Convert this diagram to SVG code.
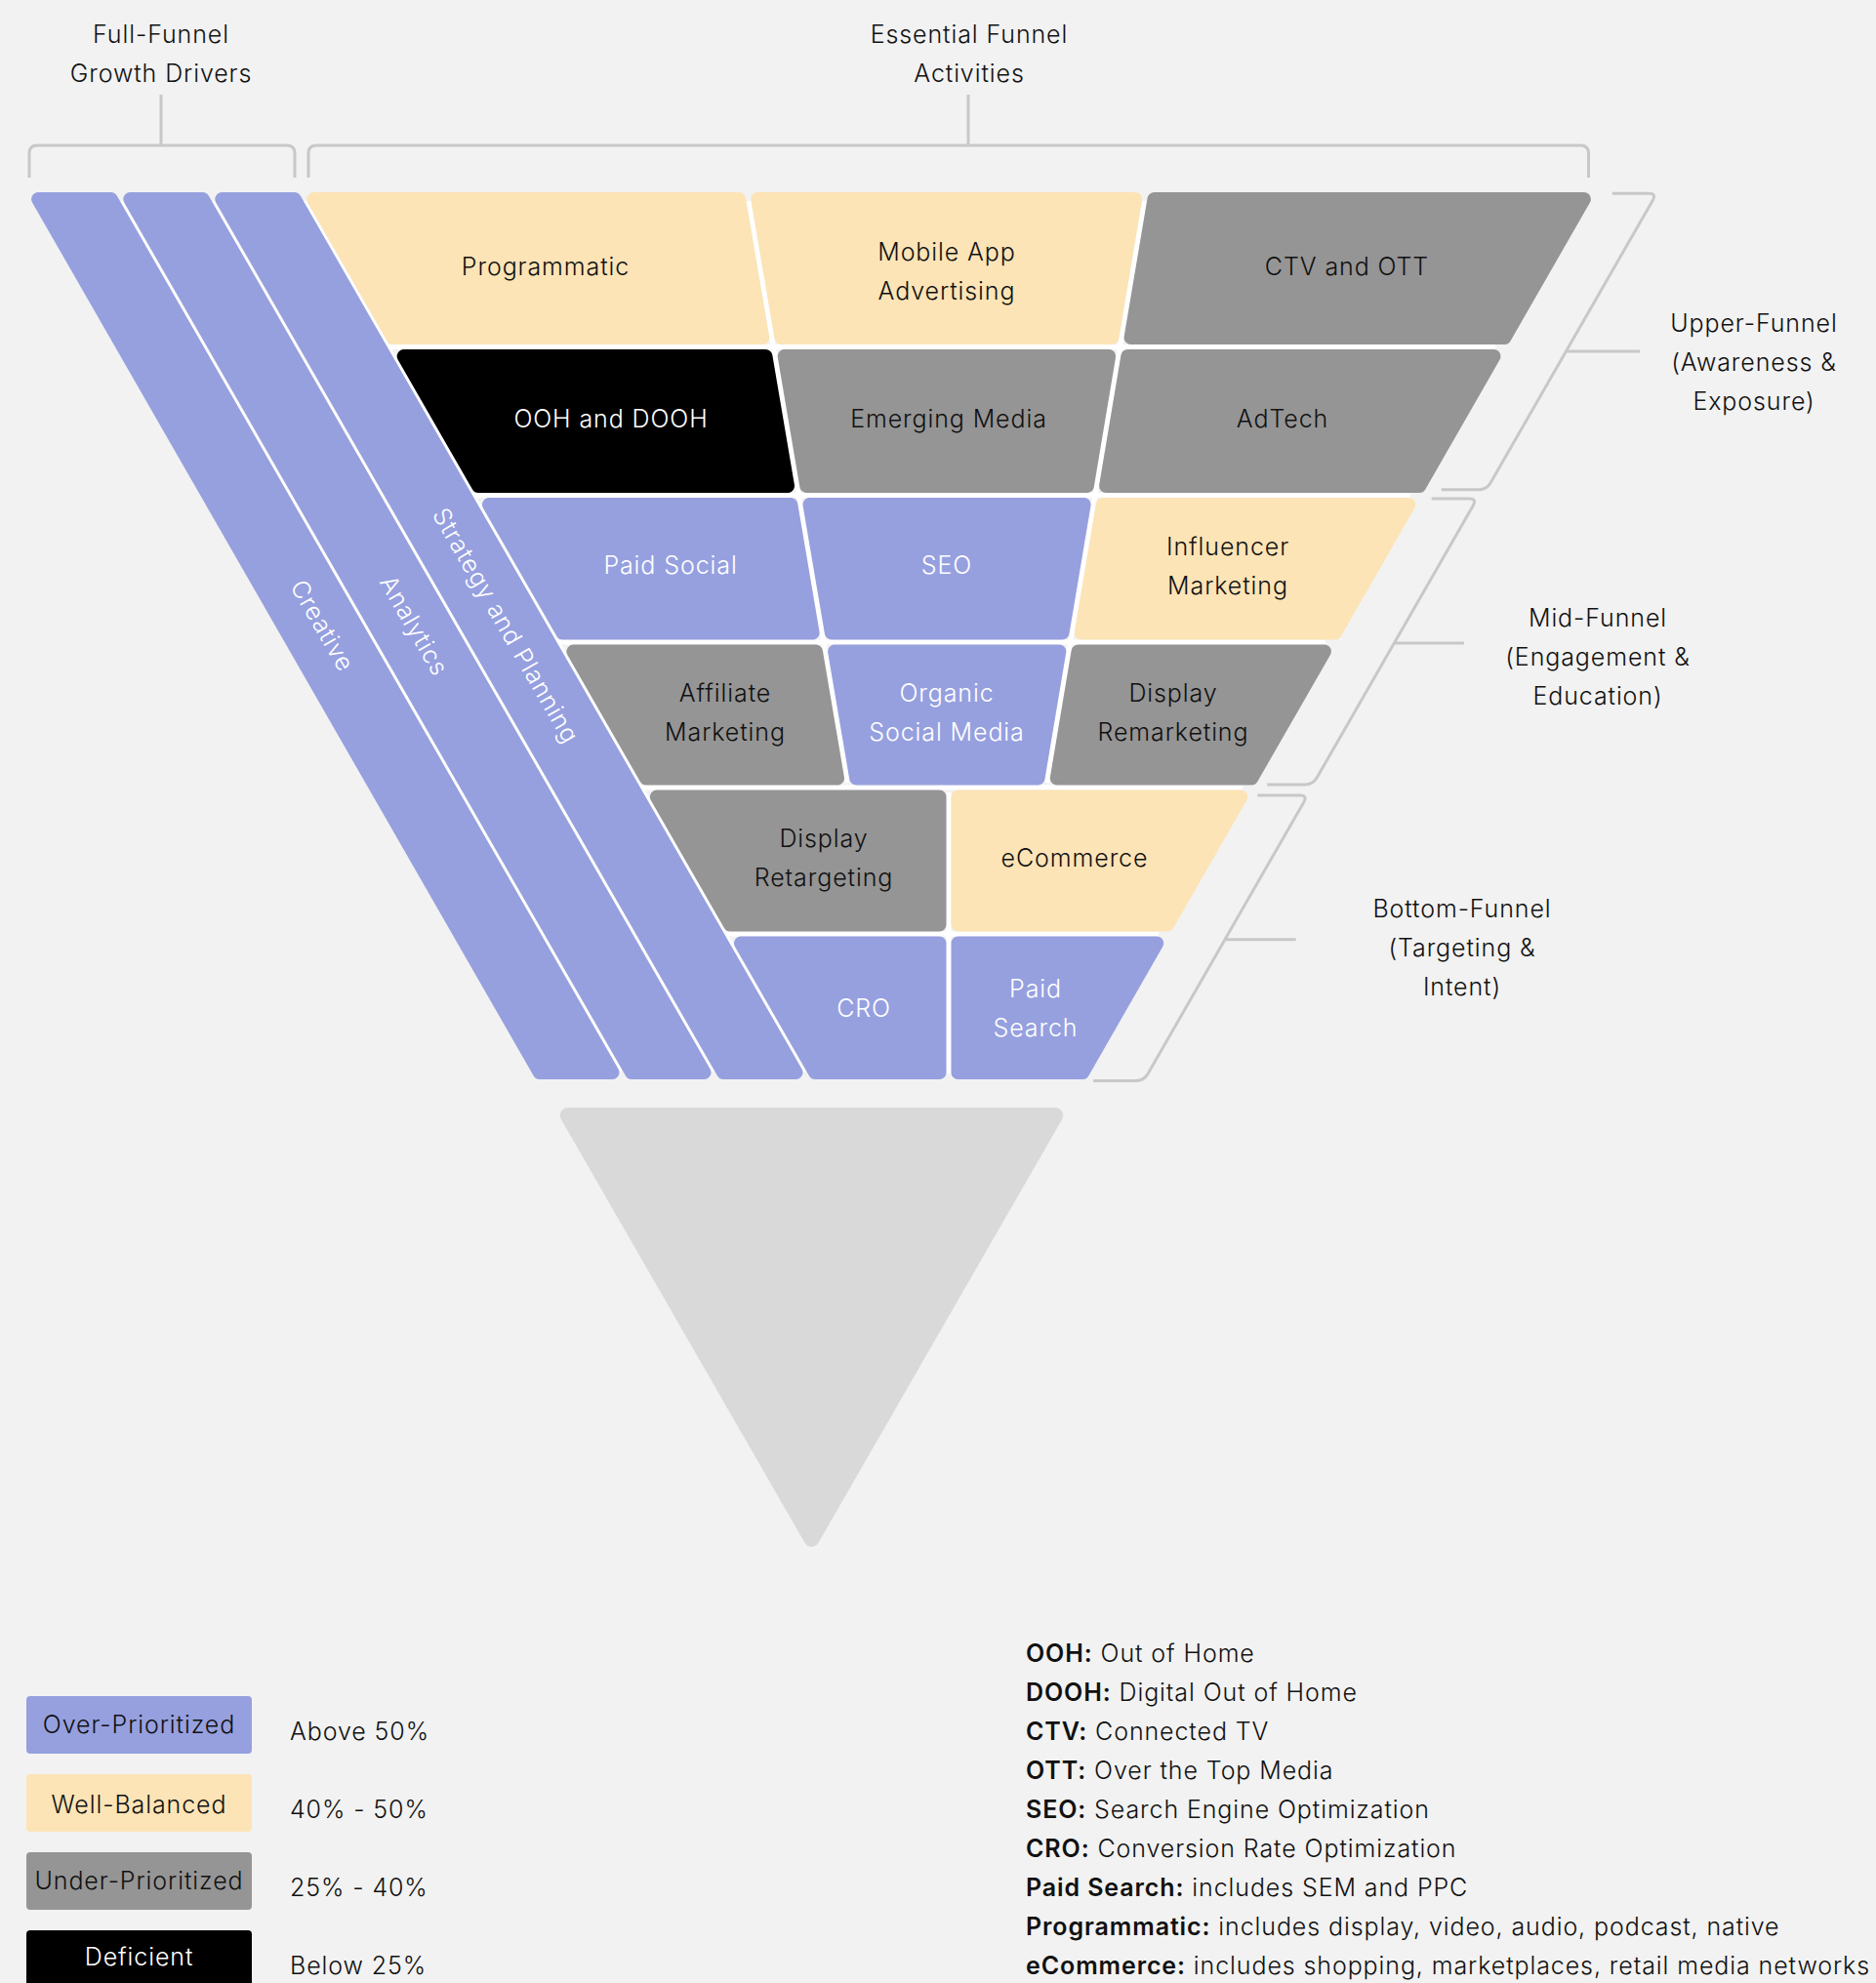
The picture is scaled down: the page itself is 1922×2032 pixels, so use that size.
<svg xmlns="http://www.w3.org/2000/svg" width="1922" height="2032" viewBox="0 0 1922 2032">
<defs>
<style>
.bg{fill:#f2f2f2}
.pu{fill:#96a0df;stroke:#96a0df;stroke-width:14;stroke-linejoin:round}
.ye{fill:#fce4b6;stroke:#fce4b6;stroke-width:14;stroke-linejoin:round}
.gr{fill:#959595;stroke:#959595;stroke-width:14;stroke-linejoin:round}
.bk{fill:#000;stroke:#000;stroke-width:14;stroke-linejoin:round}
.gap{stroke:#ffffff;fill:none}
.br{fill:none;stroke:#c8c8c8;stroke-width:3;stroke-linejoin:round}
text{font-family:Inter,"Noto Sans","Liberation Sans",sans-serif;font-size:25px;font-weight:300;letter-spacing:0.9px}
.c{text-anchor:middle;fill:#111}
.w{text-anchor:middle;fill:#fff}
.l{fill:#111}
.b{font-weight:600}
</style>
</defs>
<rect class="bg" x="0" y="0" width="1922" height="2032"/>

<g id="gaps">
<path class="gap" stroke-width="3" d="M124.1,206 L636.7,1098 M218.1,206 L730.7,1098 M312.1,206 L824.7,1098"/>
<path class="gap" stroke-width="5" d="M398.5,355.5 H1532 M485.7,507.5 H1445 M572.1,658 H1358 M657.6,807 H1273 M743.7,957 H1187"/>
<path class="gap" stroke-width="5" d="M767,206 L868.4,802 M1172.5,206 L1072.4,802 M972,812 V1100"/>
</g>

<g id="strip-creative">
<polygon class="pu" points="39.1,204 113.7,204 627.5,1099 552.8,1099"/>
<text class="w" transform="translate(322.7,645.5) rotate(60)">Creative</text>
</g>
<g id="strip-analytics">
<polygon class="pu" points="133.3,204 207.7,204 721.5,1099 647.1,1099"/>
<text class="w" transform="translate(416.7,645.5) rotate(60)">Analytics</text>
</g>
<g id="strip-strategy">
<polygon class="pu" points="227.3,204 301.7,204 815.5,1099 741.1,1099"/>
<text class="w" transform="translate(510.7,645.5) rotate(60)">Strategy and Planning</text>
</g>

<g id="programmatic">
<polygon class="ye" points="321.3,204 757.1,204 781.2,346 402.8,346"/>
<text class="c" x="559" y="281.5">Programmatic</text>
</g>
<g id="mobile-app">
<polygon class="ye" points="776.3,204 1163.2,204 1139.3,346 800.5,346"/>
<text class="c" x="970" y="266.5">Mobile App</text>
<text class="c" x="970" y="306.5">Advertising</text>
</g>
<g id="ctv-ott">
<polygon class="gr" points="1182.5,204 1622.9,204 1541.4,346 1158.6,346"/>
<text class="c" x="1380" y="281.5">CTV and OTT</text>
</g>

<g id="ooh-dooh">
<polygon class="bk" points="413.7,365 784.4,365 807.0,498 490.1,498"/>
<text class="w" x="626" y="438">OOH and DOOH</text>
</g>
<g id="emerging-media">
<polygon class="gr" points="803.7,365 1136.1,365 1113.8,498 826.3,498"/>
<text class="c" x="972" y="438">Emerging Media</text>
</g>
<g id="adtech">
<polygon class="gr" points="1155.4,365 1530.5,365 1454.2,498 1133.1,498"/>
<text class="c" x="1314" y="438">AdTech</text>
</g>

<g id="paid-social">
<polygon class="pu" points="501.0,517 810.3,517 832.6,648.5 576.5,648.5"/>
<text class="w" x="687" y="588">Paid Social</text>
</g>
<g id="seo">
<polygon class="pu" points="829.5,517 1110.6,517 1088.5,648.5 851.9,648.5"/>
<text class="w" x="970" y="588">SEO</text>
</g>
<g id="influencer">
<polygon class="ye" points="1129.9,517 1443.3,517 1367.8,648.5 1107.8,648.5"/>
<text class="c" x="1258" y="569">Influencer</text>
<text class="c" x="1258" y="609">Marketing</text>
</g>

<g id="affiliate">
<polygon class="gr" points="587.4,667.5 835.9,667.5 858.0,797.5 662.0,797.5"/>
<text class="c" x="743" y="719">Affiliate</text>
<text class="c" x="743" y="759">Marketing</text>
</g>
<g id="organic-social">
<polygon class="pu" points="855.1,667.5 1085.3,667.5 1063.5,797.5 877.2,797.5"/>
<text class="w" x="970" y="719">Organic</text>
<text class="w" x="970" y="759">Social Media</text>
</g>
<g id="display-remarketing">
<polygon class="gr" points="1104.6,667.5 1356.9,667.5 1282.2,797.5 1082.8,797.5"/>
<text class="c" x="1202" y="718.5">Display</text>
<text class="c" x="1202" y="759">Remarketing</text>
</g>

<g id="display-retargeting">
<polygon class="gr" points="672.9,816.5 962.5,816.5 962.5,947.5 748.1,947.5"/>
<text class="c" x="844" y="868">Display</text>
<text class="c" x="844" y="908">Retargeting</text>
</g>
<g id="ecommerce">
<polygon class="ye" points="981.5,816.5 1271.3,816.5 1196.1,947.5 981.5,947.5"/>
<text class="c" x="1101" y="888">eCommerce</text>
</g>

<g id="cro">
<polygon class="pu" points="759.0,966.5 962.5,966.5 962.5,1099 835.1,1099"/>
<text class="w" x="885" y="1042">CRO</text>
</g>
<g id="paid-search">
<polygon class="pu" points="981.5,966.5 1185.2,966.5 1109.2,1099 981.5,1099"/>
<text class="w" x="1061" y="1022">Paid</text>
<text class="w" x="1061" y="1062">Search</text>
</g>

<g id="base-triangle">
<polygon points="581.8,1143 1081.2,1143 831.5,1577" fill="#d9d9d9" stroke="#d9d9d9" stroke-width="16" stroke-linejoin="round"/>
</g>

<g id="connectors">
<path class="br" d="M30,182 V157 Q30,149 38,149 H294 Q302,149 302,157 V182 M165,97 V149"/>
<path class="br" d="M316,182 V157 Q316,149 324,149 H1619.5 Q1627.5,149 1627.5,157 V182 M992,97 V149"/>
<path class="br" d="M1651.7,198.3 H1689.3 Q1697.3,198.3 1693.3,205.2 L1527.1,494.8 Q1523.1,501.7 1515.1,501.7 H1476.7 M1604.4,360 H1680"/>
<path class="br" d="M1466.7,511 H1505.3 Q1513.3,511 1509.3,517.9 L1349.1,797.1 Q1345.1,804 1337.1,804 H1298.3 M1428.3,659 H1500"/>
<path class="br" d="M1288.3,815 H1331.8 Q1339.8,815 1335.8,821.9 L1175.9,1100.6 Q1171.9,1107.5 1163.9,1107.5 H1120 M1255,962.7 H1327.7"/>
</g>

<g id="label-full-funnel">
<text class="c" x="165" y="44">Full-Funnel</text>
<text class="c" x="165" y="84">Growth Drivers</text>
</g>
<g id="label-essential">
<text class="c" x="993" y="44">Essential Funnel</text>
<text class="c" x="993" y="84">Activities</text>
</g>
<g id="label-upper">
<text class="c" x="1797" y="340">Upper-Funnel</text>
<text class="c" x="1797" y="380">(Awareness &amp;</text>
<text class="c" x="1797" y="420">Exposure)</text>
</g>
<g id="label-mid">
<text class="c" x="1637" y="641.5">Mid-Funnel</text>
<text class="c" x="1637" y="681.5">(Engagement &amp;</text>
<text class="c" x="1637" y="721.5">Education)</text>
</g>
<g id="label-bottom">
<text class="c" x="1498" y="940">Bottom-Funnel</text>
<text class="c" x="1498" y="980">(Targeting &amp;</text>
<text class="c" x="1498" y="1020">Intent)</text>
</g>

<g id="legend">
<rect x="27" y="1738" width="231" height="59" rx="4" fill="#96a0df"/>
<text class="c" x="142.5" y="1776">Over-Prioritized</text>
<text class="l" x="297" y="1783">Above 50%</text>
<rect x="27" y="1818" width="231" height="59" rx="4" fill="#fce4b6"/>
<text class="c" x="142.5" y="1858">Well-Balanced</text>
<text class="l" x="297" y="1863">40% - 50%</text>
<rect x="27" y="1898" width="231" height="59" rx="4" fill="#959595"/>
<text class="c" x="142.5" y="1936">Under-Prioritized</text>
<text class="l" x="297" y="1943">25% - 40%</text>
<rect x="27" y="1978" width="231" height="70" rx="4" fill="#000"/>
<text class="w" x="142.5" y="2014">Deficient</text>
<text class="l" x="297" y="2023">Below 25%</text>
</g>

<g id="glossary">
<text class="l" x="1051" y="1703"><tspan class="b">OOH:</tspan> Out of Home</text>
<text class="l" x="1051" y="1743"><tspan class="b">DOOH:</tspan> Digital Out of Home</text>
<text class="l" x="1051" y="1783"><tspan class="b">CTV:</tspan> Connected TV</text>
<text class="l" x="1051" y="1823"><tspan class="b">OTT:</tspan> Over the Top Media</text>
<text class="l" x="1051" y="1863"><tspan class="b">SEO:</tspan> Search Engine Optimization</text>
<text class="l" x="1051" y="1903"><tspan class="b">CRO:</tspan> Conversion Rate Optimization</text>
<text class="l" x="1051" y="1943"><tspan class="b">Paid Search:</tspan> includes SEM and PPC</text>
<text class="l" x="1051" y="1983"><tspan class="b">Programmatic:</tspan> includes display, video, audio, podcast, native</text>
<text class="l" x="1051" y="2023"><tspan class="b">eCommerce:</tspan> includes shopping, marketplaces, retail media networks</text>
</g>
</svg>
